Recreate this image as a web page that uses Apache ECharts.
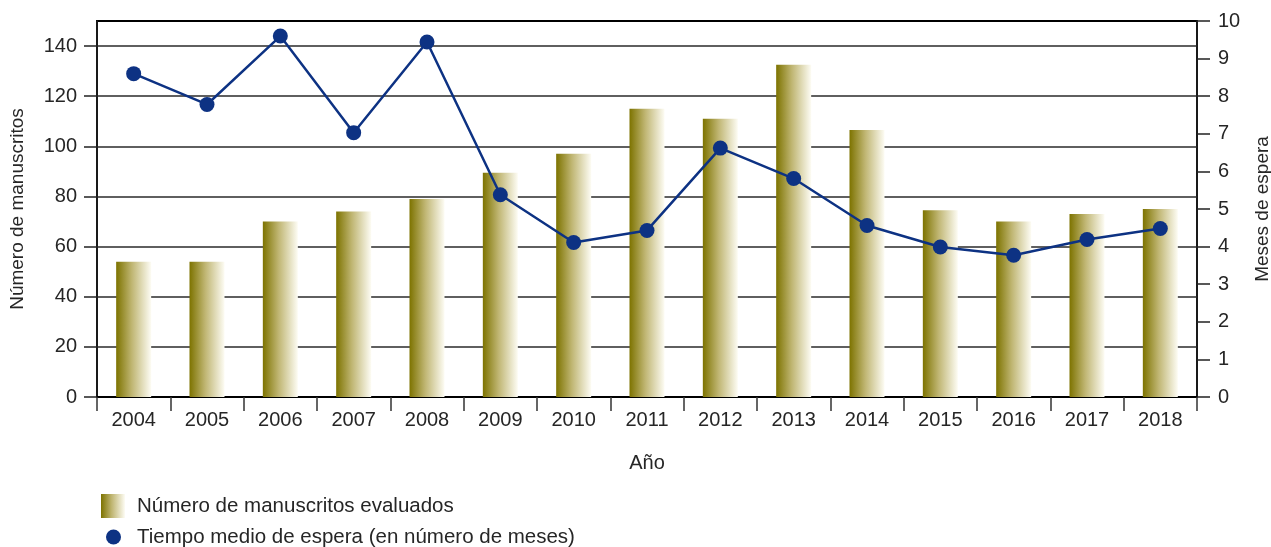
<!DOCTYPE html>
<html>
<head>
<meta charset="utf-8">
<script src="https://cdn.jsdelivr.net/npm/echarts@6/dist/echarts.min.js"></script>
<style>
  html, body { margin: 0; padding: 0; background: #fff; }
  #chart { width: 1271px; height: 547px; }
</style>
</head>
<body>
<div id="chart"></div>
<script>
const years = ['2004', '2005', '2006', '2007', '2008', '2009', '2010', '2011', '2012', '2013', '2014', '2015', '2016', '2017', '2018'];
const manuscripts = [54, 54, 70, 74, 79, 89.5, 97, 115, 111, 132.5, 106.5, 74.5, 70, 73, 75];
const waitMonths = [8.6, 7.78, 9.6, 7.03, 9.44, 5.38, 4.11, 4.43, 6.62, 5.81, 4.56, 3.99, 3.77, 4.19, 4.48];
const leftTicks = [0, 20, 40, 60, 80, 100, 120, 140];
const rightTicks = [0, 1, 2, 3, 4, 5, 6, 7, 8, 9, 10];

const barName = 'Número de manuscritos evaluados';
const lineName = 'Tiempo medio de espera (en número de meses)';

const FONT = '"Liberation Sans", Arial, sans-serif';
const TEXT = '#262626';

const barGradient = new echarts.graphic.LinearGradient(0, 0, 1, 0, [
  { offset: 0, color: '#7d7300' },
  { offset: 0.45, color: '#c0b673' },
  { offset: 1, color: '#fdfcf4' },
]);

const chart = echarts.init(document.getElementById('chart'), null, { renderer: 'canvas' });

chart.setOption({
  animation: false,
  textStyle: { fontFamily: FONT, color: TEXT },
  grid: {
    left: 97,
    right: 74,
    top: 21,
    bottom: 150,
    outerBoundsMode: 'none',
    containLabel: false,
    show: true,
    borderColor: '#000',
    borderWidth: 2,
    backgroundColor: 'transparent',
  },
  legend: [
    {
      data: [barName],
      left: 101,
      top: 494,
      padding: 0,
      icon: 'rect',
      itemWidth: 24,
      itemHeight: 24,
      textStyle: { fontSize: 20.5, lineHeight: 24, color: TEXT, fontFamily: FONT, padding: [0, 0, 0, 7] },
    },
    {
      data: [lineName],
      left: 106,
      top: 525,
      padding: 0,
      icon: 'circle',
      itemWidth: 15,
      itemHeight: 15,
      textStyle: { fontSize: 20.5, lineHeight: 24, color: TEXT, fontFamily: FONT, padding: [0, 0, 0, 11] },
    },
  ],
  xAxis: {
    type: 'category',
    data: years,
    name: 'Año',
    nameLocation: 'middle',
    nameGap: 56,
    nameTextStyle: { fontSize: 20, color: TEXT },
    axisLine: { lineStyle: { color: '#000', width: 2 } },
    axisTick: { show: true, alignWithLabel: false, length: 14, lineStyle: { color: '#333', width: 1.5 } },
    axisLabel: { fontSize: 20, color: TEXT, margin: 13 },
  },
  yAxis: [
    {
      type: 'value',
      min: 0,
      max: 150,
      interval: 20,
      name: 'Número de manuscritos',
      nameLocation: 'middle',
      nameGap: 70,
      nameTextStyle: { fontSize: 19, color: TEXT },
      axisLine: { show: true, lineStyle: { color: '#222', width: 1.5 } },
      axisTick: { show: true, length: 13, customValues: leftTicks, lineStyle: { color: '#222', width: 1.5 } },
      axisLabel: { fontSize: 20, color: TEXT, margin: 20, customValues: leftTicks },
      splitLine: { show: true, lineStyle: { color: '#2a2a2a', width: 1.5 } },
    },
    {
      type: 'value',
      min: 0,
      max: 10,
      interval: 1,
      position: 'right',
      name: 'Meses de espera',
      nameLocation: 'middle',
      nameGap: 56,
      nameTextStyle: { fontSize: 19, color: TEXT },
      axisLine: { show: true, lineStyle: { color: '#222', width: 1.5 } },
      axisTick: { show: true, length: 13, customValues: rightTicks, lineStyle: { color: '#222', width: 1.5 } },
      axisLabel: { fontSize: 20, color: TEXT, margin: 21, customValues: rightTicks },
      splitLine: { show: false },
    },
  ],
  series: [
    {
      name: barName,
      type: 'bar',
      yAxisIndex: 0,
      barWidth: 35,
      data: manuscripts,
      itemStyle: { color: barGradient },
    },
    {
      name: lineName,
      type: 'line',
      yAxisIndex: 1,
      data: waitMonths,
      symbol: 'circle',
      symbolSize: 15,
      lineStyle: { color: '#0d3283', width: 2.5 },
      itemStyle: { color: '#0d3283' },
      z: 5,
    },
  ],
});
</script>
</body>
</html>
